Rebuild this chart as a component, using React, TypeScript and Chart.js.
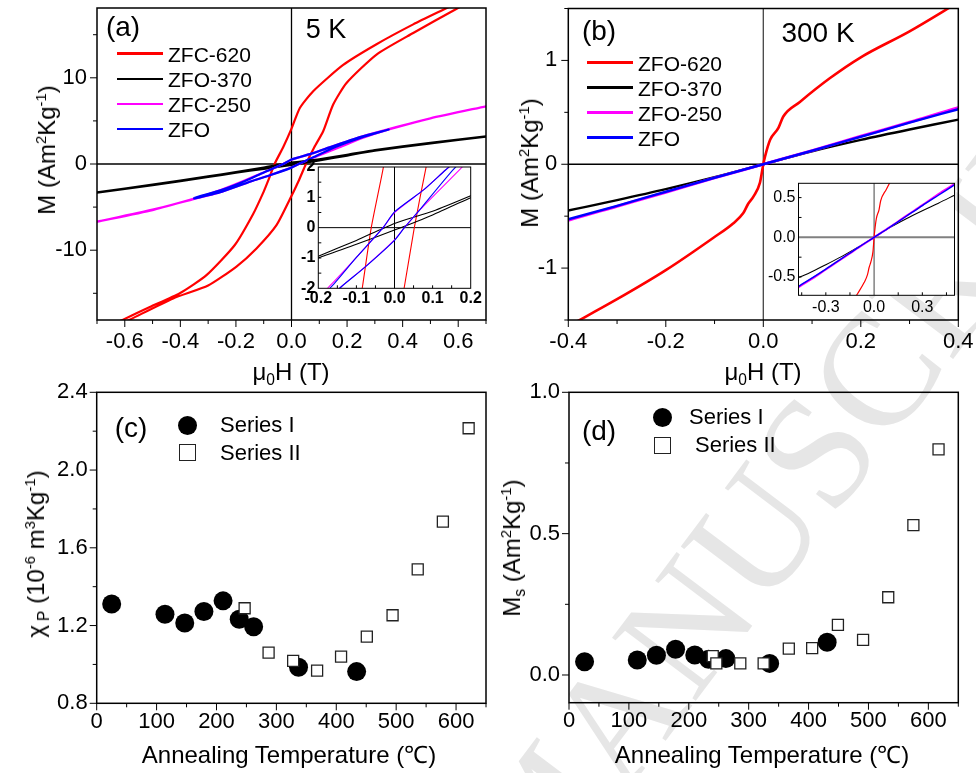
import React, { useEffect, useRef } from 'react';
import { Chart, registerables } from 'chart.js';
Chart.register(...registerables);

const SANS = '"Liberation Sans", Arial, Helvetica, sans-serif';

// ---------------- Panel (a): 5 K loops ----------------
const zfc620DescH = [0.7, 0.546, 0.438, 0.306, 0.186, 0.078, 0.03, 0, -0.03, -0.061, -0.084, -0.1, -0.138, -0.204, -0.306, -0.402, -0.51, -0.606, -0.7];
const zfc620DescM = [20.3, 17.9, 16.2, 13.9, 11.5, 8.45, 6.5, 4.1, 1.94, 0, -1.94, -3.2, -5.8, -9.4, -12.9, -15.0, -16.6, -18.06, -19.5];
const zfc620AscH = [-0.7, -0.582, -0.426, -0.3, -0.198, -0.126, -0.054, -0.006, 0.026, 0.052, 0.082, 0.114, 0.15, 0.198, 0.306, 0.438, 0.588, 0.7];
const zfc620AscM = [-19.9, -18.06, -15.6, -14.1, -11.9, -9.8, -7.1, -4.1, -1.94, 0, 1.94, 3.8, 6.9, 9.4, 12.7, 15.2, 17.9, 19.9];

const zfo370aDescH = [0.7, 0.5, 0.3, 0.2, 0.1, 0, -0.1, -0.2, -0.3, -0.5, -0.7];
const zfo370aDescM = [3.2, 2.45, 1.6, 1.05, 0.54, 0.14, -0.42, -0.94, -1.45, -2.4, -3.3];
const zfo370aAscH = [-0.7, -0.5, -0.3, -0.2, -0.1, 0, 0.1, 0.2, 0.3, 0.5, 0.7];
const zfo370aAscM = [-3.3, -2.45, -1.5, -1.0, -0.55, -0.08, 0.42, 0.99, 1.55, 2.4, 3.2];

const zfc250DescH = [0.7, 0.5, 0.35, 0.25, 0.134, 0.078, 0, -0.03, -0.1, -0.171, -0.25, -0.35, -0.5, -0.7];
const zfc250DescM = [6.7, 5.3, 4.05, 3.15, 1.9, 1.26, 0.5, 0, -0.98, -1.94, -2.95, -4.0, -5.3, -6.7];
const zfc250AscH = [-0.7, -0.5, -0.35, -0.25, -0.139, -0.078, 0, 0.026, 0.069, 0.173, 0.25, 0.35, 0.5, 0.7];
const zfc250AscM = [-6.7, -5.35, -4.05, -3.2, -1.94, -1.3, -0.4, 0, 0.62, 1.94, 2.95, 4.0, 5.3, 6.7];

const zfoaDescH = [0.35, 0.25, 0.134, 0.078, 0, -0.03, -0.1, -0.165, -0.25, -0.35];
const zfoaDescM = [4.0, 3.15, 1.9, 1.26, 0.52, 0, -0.98, -1.94, -3.0, -3.95];
const zfoaAscH = [-0.35, -0.25, -0.139, -0.078, 0, 0.026, 0.069, 0.156, 0.25, 0.35];
const zfoaAscM = [-4.0, -3.2, -1.94, -1.31, -0.42, 0, 0.63, 1.94, 3.05, 4.0];

// ---------------- Panel (b): 300 K curves ----------------
const zfo620H = [-0.4, -0.3, -0.2, -0.103, -0.062, -0.041, -0.031, -0.02, -0.007, 0, 0.0035, 0.014, 0.031, 0.041, 0.075, 0.137, 0.2, 0.3, 0.4];
const zfo620M = [-1.56, -1.3, -1.02, -0.71, -0.57, -0.47, -0.38, -0.31, -0.18, 0, 0.073, 0.235, 0.35, 0.46, 0.6, 0.83, 1.03, 1.28, 1.56];
const fieldB = [-0.5, -0.4, -0.3, -0.2, -0.1, 0, 0.1, 0.2, 0.3, 0.4, 0.5];
const zfo370bM = [-0.53, -0.445, -0.345, -0.24, -0.125, 0, 0.125, 0.235, 0.335, 0.43, 0.53];
const zfo250bM = [-0.665, -0.54, -0.405, -0.27, -0.132, 0, 0.132, 0.27, 0.405, 0.545, 0.67];
const zfobM = [-0.655, -0.53, -0.4, -0.265, -0.13, 0, 0.13, 0.265, 0.4, 0.53, 0.66];

// ---------------- Panel (c): chi_P ----------------
const chiSeriesITemp = [25, 114, 147, 179, 211, 238, 262, 337, 434];
const chiSeriesI = [1.311, 1.258, 1.213, 1.272, 1.327, 1.232, 1.194, 0.985, 0.963];
const chiSeriesIITemp = [247, 287, 328, 368, 408, 451, 494, 536, 578, 621];
const chiSeriesII = [1.289, 1.061, 1.018, 0.968, 1.04, 1.143, 1.253, 1.489, 1.735, 2.215];

// ---------------- Panel (d): Ms ----------------
const msSeriesITemp = [26, 114, 146, 178, 210, 233, 262, 335, 431];
const msSeriesI = [0.047, 0.053, 0.07, 0.091, 0.071, 0.056, 0.058, 0.041, 0.116];
const msSeriesIITemp = [240, 246, 286, 325, 367, 406, 449, 491, 533, 575, 617];
const msSeriesII = [0.067, 0.041, 0.041, 0.041, 0.093, 0.095, 0.177, 0.124, 0.275, 0.53, 0.798];

// ---------------- ticks ----------------
const aXMajor = [-0.6, -0.4, -0.2, 0, 0.2, 0.4, 0.6];
const aXMinor = [-0.7, -0.5, -0.3, -0.1, 0.1, 0.3, 0.5, 0.7];
const aYMajor = [-10, 0, 10];
const aYMinor = [-15, -5, 5, 15];
const bXMajor = [-0.4, -0.2, 0, 0.2, 0.4];
const bXMinor = [-0.3, -0.1, 0.1, 0.3];
const bYMajor = [-1, 0, 1];
const bYMinor = [-1.5, -0.5, 0.5, 1.5];
const tempMajor = [0, 100, 200, 300, 400, 500, 600];
const tempMinor = [50, 150, 250, 350, 450, 550, 650];
const cYMajor = [0.8, 1.2, 1.6, 2.0, 2.4];
const cYMinor = [1.0, 1.4, 1.8, 2.2];
const dYMajor = [0, 0.5, 1.0];
const dYMinor = [0.25, 0.75];
const iaXMajor = [-0.2, -0.1, 0, 0.1, 0.2];
const iaXMinor = [-0.15, -0.1, -0.05, 0.05, 0.1, 0.15];
const iaYMajor = [-2, -1, 0, 1, 2];
const iaYMinor = [-1.5, -1, -0.5, 0.5, 1, 1.5];
const ibXMajor = [-0.3, 0, 0.3];
const ibXMinor = [-0.45, -0.3, -0.15, 0.15, 0.3, 0.45];
const ibYMajor = [-0.5, 0, 0.5];
const ibYMinor = [-0.5, -0.25, 0.25, 0.5];

const pts = (h: number[], m: number[]) => h.map((x, i) => ({ x, y: m[i] }));
const loop = (dh: number[], dm: number[], ah: number[], am: number[]) => [...pts(dh, dm), ...pts(ah, am)];

const RED = '#ff0000', BLACK = '#000000', MAG = '#ff00ff', BLUE = '#0000ff';

type Axis = { min: number; max: number; major: number[]; minor: number[]; fmt: (v: number) => string; pad: number };
type Spec = {
  area: { l: number; t: number; r: number; b: number };
  yW: number; xH: number;
  type: 'line' | 'scatter';
  datasets: any[];
  x: Axis; y: Axis;
  font: { size: number; weight?: string };
  inward?: boolean;
  majorLen: number; minorLen: number;
  frameW: number;
  zeroX?: { color: string; width: number };
  zeroY?: { color: string; width: number };
  fillWhite?: boolean;
};

function geom(s: Spec) {
  const left = Math.round(s.area.l - s.yW);
  const top = Math.round(s.area.t - 30);
  const width = Math.round(s.area.r + 40 - left);
  const height = Math.round(s.area.b + s.xH - top);
  return {
    left, top, width, height,
    yW: s.area.l - left,
    padTop: s.area.t - top,
    padRight: left + width - s.area.r,
    xH: top + height - s.area.b,
  };
}

function makePlugin(s: Spec) {
  return {
    id: 'frame',
    beforeDraw(chart: any) {
      if (!s.fillWhite) return;
      const { ctx, chartArea: a } = chart;
      ctx.save();
      ctx.fillStyle = '#ffffff';
      ctx.fillRect(a.left, a.top, a.right - a.left, a.bottom - a.top);
      ctx.restore();
    },
    beforeDatasetsDraw(chart: any) {
      const { ctx, chartArea: a, scales } = chart;
      ctx.save();
      if (s.zeroX) {
        const px = scales.x.getPixelForValue(0);
        ctx.strokeStyle = s.zeroX.color; ctx.lineWidth = s.zeroX.width;
        ctx.beginPath(); ctx.moveTo(px, a.top); ctx.lineTo(px, a.bottom); ctx.stroke();
      }
      if (s.zeroY) {
        const py = scales.y.getPixelForValue(0);
        ctx.strokeStyle = s.zeroY.color; ctx.lineWidth = s.zeroY.width;
        ctx.beginPath(); ctx.moveTo(a.left, py); ctx.lineTo(a.right, py); ctx.stroke();
      }
      ctx.restore();
    },
    afterDraw(chart: any) {
      const { ctx, chartArea: a, scales } = chart;
      ctx.save();
      ctx.strokeStyle = '#000';
      ctx.lineWidth = s.frameW;
      ctx.strokeRect(a.left, a.top, a.right - a.left, a.bottom - a.top);
      ctx.lineWidth = 1;
      const dir = s.inward ? -1 : 1;
      const tickX = (v: number, len: number) => {
        const px = scales.x.getPixelForValue(v);
        ctx.beginPath(); ctx.moveTo(px, a.bottom); ctx.lineTo(px, a.bottom + dir * len); ctx.stroke();
      };
      const tickY = (v: number, len: number) => {
        const py = scales.y.getPixelForValue(v);
        ctx.beginPath(); ctx.moveTo(a.left, py); ctx.lineTo(a.left - dir * len, py); ctx.stroke();
      };
      s.x.major.forEach((v) => tickX(v, s.majorLen));
      s.x.minor.forEach((v) => tickX(v, s.minorLen));
      s.y.major.forEach((v) => tickY(v, s.majorLen));
      s.y.minor.forEach((v) => tickY(v, s.minorLen));
      ctx.restore();
    },
  };
}

function scaleOpts(ax: Axis, s: Spec, g: any, isX: boolean) {
  return {
    type: 'linear',
    position: isX ? 'bottom' : 'left',
    min: ax.min,
    max: ax.max,
    bounds: 'data',
    grid: { display: false, drawTicks: false, tickLength: 0 },
    border: { display: false },
    afterBuildTicks: (sc: any) => { sc.ticks = ax.major.map((v) => ({ value: v })); },
    afterFit: (sc: any) => { if (isX) sc.height = g.xH; else sc.width = g.yW; },
    ticks: {
      autoSkip: false, maxRotation: 0, minRotation: 0, padding: ax.pad, color: '#000',
      font: { family: SANS, size: s.font.size, weight: s.font.weight || 'normal' },
      callback: (v: any) => ax.fmt(Number(v)),
    },
  };
}

function Panel({ spec }: { spec: Spec }) {
  const ref = useRef<HTMLCanvasElement>(null);
  const g = geom(spec);
  useEffect(() => {
    const chart = new Chart(ref.current as HTMLCanvasElement, {
      type: spec.type,
      data: { datasets: spec.datasets },
      options: {
        animation: false,
        responsive: false,
        maintainAspectRatio: false,
        events: [],
        layout: { padding: { left: 0, top: g.padTop, right: g.padRight, bottom: 0 } },
        plugins: { legend: { display: false }, tooltip: { enabled: false } },
        scales: { x: scaleOpts(spec.x, spec, g, true), y: scaleOpts(spec.y, spec, g, false) } as any,
      },
      plugins: [makePlugin(spec)],
    } as any);
    return () => chart.destroy();
  }, []);
  return (
    <canvas
      ref={ref}
      width={g.width}
      height={g.height}
      style={{ position: 'absolute', left: g.left, top: g.top, width: g.width, height: g.height }}
    />
  );
}

const line = (data: any[], color: string, width: number, smooth: 'loop' | 'mono' | 'none' = 'none') => ({
  data, borderColor: color, backgroundColor: color, borderWidth: width, pointRadius: 0, fill: false,
  tension: smooth === 'loop' ? 0.2 : 0,
  cubicInterpolationMode: smooth === 'mono' ? 'monotone' : 'default',
  borderJoinStyle: 'round', borderCapStyle: 'round',
});

const f1 = (v: number) => v.toFixed(1);
const f0 = (v: number) => String(Math.round(v));

const loop620 = loop(zfc620DescH, zfc620DescM, zfc620AscH, zfc620AscM);
const loop370 = loop(zfo370aDescH, zfo370aDescM, zfo370aAscH, zfo370aAscM);
const loop250 = loop(zfc250DescH, zfc250DescM, zfc250AscH, zfc250AscM);
const loopZfo = loop(zfoaDescH, zfoaDescM, zfoaAscH, zfoaAscM);

const specA: Spec = {
  area: { l: 97, t: 8, r: 486, b: 320 }, yW: 97, xH: 70, type: 'line',
  datasets: [line(loopZfo, BLUE, 2.2, 'loop'), line(loop250, MAG, 2.2, 'loop'), line(loop370, BLACK, 2.4, 'loop'), line(loop620, RED, 2.2, 'loop')],
  x: { min: -0.7, max: 0.7, major: aXMajor, minor: aXMinor, fmt: f1, pad: 9 },
  y: { min: -18.1, max: 18.1, major: aYMajor, minor: aYMinor, fmt: f0, pad: 10 },
  font: { size: 22 }, majorLen: 7, minorLen: 4, frameW: 1.5,
  zeroX: { color: '#000', width: 1.3 }, zeroY: { color: '#000', width: 1.3 },
};

const specAi: Spec = {
  area: { l: 318.3, t: 167, r: 470.7, b: 288.3 }, yW: 28, xH: 32, type: 'line',
  datasets: [line(loopZfo, BLUE, 1.1, 'loop'), line(loop250, MAG, 1.1, 'loop'), line(loop370, BLACK, 1.1, 'loop'), line(loop620, RED, 1.1, 'loop')],
  x: { min: -0.2, max: 0.2, major: iaXMajor, minor: iaXMinor, fmt: f1, pad: 1 },
  y: { min: -2, max: 2, major: iaYMajor, minor: iaYMinor, fmt: f0, pad: 3 },
  font: { size: 16, weight: 'bold' }, inward: true, majorLen: 0, minorLen: 3, frameW: 1,
  zeroX: { color: '#000', width: 1 }, zeroY: { color: '#000', width: 1 }, fillWhite: true,
};

const specB: Spec = {
  area: { l: 568.3, t: 8.5, r: 958.3, b: 320 }, yW: 78, xH: 70, type: 'line',
  datasets: [
    line(pts(fieldB, zfobM), BLUE, 2.4, 'mono'), line(pts(fieldB, zfo250bM), MAG, 2.8, 'mono'),
    line(pts(fieldB, zfo370bM), BLACK, 2.4, 'mono'), line(pts(zfo620H, zfo620M), RED, 2.6, 'mono'),
  ],
  x: { min: -0.4, max: 0.4, major: bXMajor, minor: bXMinor, fmt: f1, pad: 9 },
  y: { min: -1.5, max: 1.5, major: bYMajor, minor: bYMinor, fmt: f0, pad: 11 },
  font: { size: 22 }, majorLen: 7, minorLen: 4, frameW: 1.5,
  zeroX: { color: '#444', width: 1.3 }, zeroY: { color: '#000', width: 1.3 },
};

const specBi: Spec = {
  area: { l: 798.5, t: 183.3, r: 954.5, b: 295.3 }, yW: 38, xH: 25, type: 'line',
  datasets: [
    line(pts(fieldB, zfobM), BLUE, 1.4, 'mono'), line(pts(fieldB, zfo250bM), MAG, 2, 'mono'),
    line(pts(fieldB, zfo370bM), BLACK, 1.1, 'mono'), line(pts(zfo620H, zfo620M), RED, 1.2, 'mono'),
  ],
  x: { min: -0.47, max: 0.5, major: ibXMajor, minor: ibXMinor, fmt: f1, pad: 3 },
  y: { min: -0.73, max: 0.68, major: ibYMajor, minor: ibYMinor, fmt: f1, pad: 3 },
  font: { size: 16 }, inward: true, majorLen: 0, minorLen: 3, frameW: 1,
  zeroX: { color: '#444', width: 1 }, zeroY: { color: '#808080', width: 2 }, fillWhite: true,
};

const squares = (data: any[]) => ({
  type: 'scatter', data, pointStyle: 'rect', pointRadius: 7.8, borderColor: '#222', borderWidth: 1.3,
  backgroundColor: '#ffffff', order: 0,
});
const circles = (data: any[]) => ({
  type: 'scatter', data, pointStyle: 'circle', pointRadius: 9.5, borderWidth: 0, backgroundColor: '#000', order: 1,
});

const specC: Spec = {
  area: { l: 96.7, t: 392.3, r: 486, b: 703.3 }, yW: 97, xH: 60, type: 'scatter',
  datasets: [squares(pts(chiSeriesIITemp, chiSeriesII)), circles(pts(chiSeriesITemp, chiSeriesI))],
  x: { min: 0, max: 650, major: tempMajor, minor: tempMinor, fmt: f0, pad: 5 },
  y: { min: 0.8, max: 2.4, major: cYMajor, minor: cYMinor, fmt: f1, pad: 9 },
  font: { size: 22 }, majorLen: 7, minorLen: 4, frameW: 1.5,
};

const specD: Spec = {
  area: { l: 569, t: 392.3, r: 958.3, b: 702.7 }, yW: 79, xH: 60, type: 'scatter',
  datasets: [squares(pts(msSeriesIITemp, msSeriesII)), circles(pts(msSeriesITemp, msSeriesI))],
  x: { min: 0, max: 650, major: tempMajor, minor: tempMinor, fmt: f0, pad: 5 },
  y: { min: -0.098, max: 1.0, major: dYMajor, minor: dYMinor, fmt: f1, pad: 9 },
  font: { size: 22 }, majorLen: 7, minorLen: 4, frameW: 1.5,
};

const supS: React.CSSProperties = { fontSize: '0.62em', position: 'relative', top: '-0.6em' };
const subS: React.CSSProperties = { fontSize: '0.65em', position: 'relative', top: '0.35em' };

function Txt(p: { x: number; y: number; size: number; children: any; left?: boolean; rot?: number; family?: string; color?: string }) {
  return (
    <div
      style={{
        position: 'absolute', left: p.x, top: p.y, fontSize: p.size, fontFamily: p.family || SANS,
        lineHeight: 1, whiteSpace: 'nowrap', color: p.color || '#000',
        transform: `translate(${p.left ? '0' : '-50%'}, -50%) rotate(${p.rot || 0}deg)`,
      }}
    >
      {p.children}
    </div>
  );
}

function LegLine({ x, y, color }: { x: number; y: number; color: string }) {
  return <div style={{ position: 'absolute', left: x, top: y - 1.25, width: 46, height: 2.5, background: color }} />;
}

const legendA = [
  { label: 'ZFC-620', color: RED },
  { label: 'ZFO-370', color: BLACK },
  { label: 'ZFC-250', color: MAG },
  { label: 'ZFO', color: BLUE },
];
const legendB = [
  { label: 'ZFO-620', color: RED },
  { label: 'ZFO-370', color: BLACK },
  { label: 'ZFO-250', color: MAG },
  { label: 'ZFO', color: BLUE },
];
const legendARows = [53.5, 79, 104, 129];
const legendBRows = [62.7, 87.5, 112.5, 137.5];

export default function App() {
  return (
    <div style={{ position: 'fixed', left: 0, top: 0, width: 976, height: 773, overflow: 'hidden', background: '#fff' }}>
      <div
        style={{
          position: 'absolute', left: 805, top: 466, fontFamily: '"Liberation Serif", "Times New Roman", serif',
          fontSize: 160, lineHeight: 1, color: '#e6e6e6', whiteSpace: 'nowrap',
          transform: 'translate(-50%, -50%) rotate(-53deg)',
        }}
      >
        MANUSCRIPT
      </div>

      <Panel spec={specA} />
      <Panel spec={specB} />
      <Panel spec={specC} />
      <Panel spec={specD} />
      <Panel spec={specAi} />
      <Panel spec={specBi} />

      {/* panel (a) texts */}
      <Txt x={123} y={27} size={28}>(a)</Txt>
      <Txt x={326} y={29} size={27}>5 K</Txt>
      {legendA.map((e, i) => (
        <React.Fragment key={e.label}>
          <LegLine x={117} y={legendARows[i]} color={e.color} />
          <Txt x={168} y={legendARows[i]} size={21} left>{e.label}</Txt>
        </React.Fragment>
      ))}
      <Txt x={47} y={150} size={24} rot={-90}>
        M (Am<span style={supS}>2</span>Kg<span style={supS}>-1</span>)
      </Txt>
      <Txt x={291} y={372} size={24}>
        μ<span style={subS}>0</span>H (T)
      </Txt>

      {/* panel (b) texts */}
      <Txt x={599} y={31} size={28}>(b)</Txt>
      <Txt x={818} y={33} size={28}>300 K</Txt>
      {legendB.map((e, i) => (
        <React.Fragment key={e.label}>
          <LegLine x={587} y={legendBRows[i]} color={e.color} />
          <Txt x={638} y={legendBRows[i]} size={21} left>{e.label}</Txt>
        </React.Fragment>
      ))}
      <Txt x={530} y={163} size={24} rot={-90}>
        M (Am<span style={supS}>2</span>Kg<span style={supS}>-1</span>)
      </Txt>
      <Txt x={763} y={372} size={24}>
        μ<span style={subS}>0</span>H (T)
      </Txt>

      {/* panel (c) texts */}
      <Txt x={131} y={428} size={28}>(c)</Txt>
      <div style={{ position: 'absolute', left: 177.5, top: 415.5, width: 19, height: 19, borderRadius: '50%', background: '#000' }} />
      <div style={{ position: 'absolute', left: 178.5, top: 444, width: 17, height: 17, border: '1.5px solid #222', boxSizing: 'border-box', background: '#fff' }} />
      <Txt x={220} y={425} size={22} left>Series I</Txt>
      <Txt x={220} y={453} size={22} left>Series II</Txt>
      <Txt x={36} y={554} size={24} rot={-90}>
        χ<span style={{ ...subS, marginLeft: 4 }}>P</span> (10<span style={supS}>-6</span> m<span style={supS}>3</span>Kg<span style={supS}>-1</span>)
      </Txt>
      <Txt x={289} y={755} size={24}>Annealing Temperature (℃)</Txt>

      {/* panel (d) texts */}
      <Txt x={599} y={431} size={28}>(d)</Txt>
      <div style={{ position: 'absolute', left: 653, top: 408, width: 19, height: 19, borderRadius: '50%', background: '#000' }} />
      <div style={{ position: 'absolute', left: 654, top: 436.5, width: 17, height: 17, border: '1.5px solid #222', boxSizing: 'border-box', background: '#fff' }} />
      <Txt x={689} y={417} size={22} left>Series I</Txt>
      <Txt x={695} y={445} size={22} left>Series II</Txt>
      <Txt x={512} y={548} size={24} rot={-90}>
        M<span style={subS}>s</span> (Am<span style={supS}>2</span>Kg<span style={supS}>-1</span>)
      </Txt>
      <Txt x={762} y={755} size={24}>Annealing Temperature (℃)</Txt>
    </div>
  );
}
